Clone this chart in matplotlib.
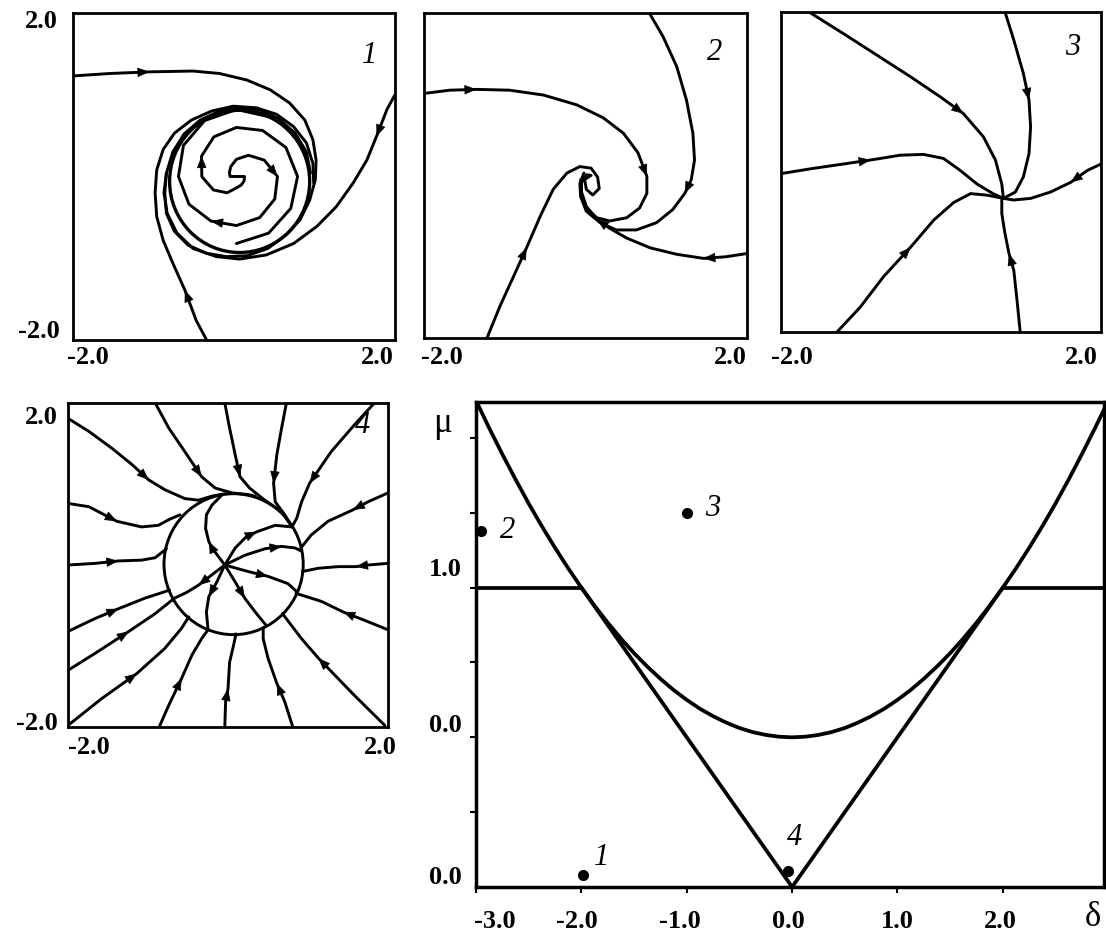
import numpy as np
import matplotlib
matplotlib.use('Agg')
import matplotlib.pyplot as plt
from matplotlib.patches import Circle

plt.rcParams['font.family'] = ['Liberation Serif', 'DejaVu Serif']

W, H = 1106, 934

# ---------------- phase portrait 1 : unstable focus inside a stable cycle
p1_top = [(-2.0, 1.23), (-1.54, 1.26), (-1.05, 1.28), (-0.51, 1.29), (-0.18, 1.26),
          (0.16, 1.18), (0.45, 1.06), (0.69, 0.90), (0.88, 0.69), (0.98, 0.45),
          (1.02, 0.20), (1.01, -0.04), (0.94, -0.29), (0.82, -0.53), (0.65, -0.71),
          (0.42, -0.88), (0.16, -0.97), (-0.09, -0.98), (-0.34, -0.94), (-0.57, -0.84),
          (-0.74, -0.67), (-0.84, -0.45), (-0.86, -0.20), (-0.84, 0.04), (-0.76, 0.30),
          (-0.62, 0.52), (-0.42, 0.69), (-0.18, 0.80), (0.07, 0.84), (0.32, 0.81),
          (0.55, 0.71), (0.76, 0.53), (0.90, 0.30), (0.95, 0.04)]
p1_right = [(2.0, 1.0), (1.90, 0.82), (1.77, 0.49), (1.65, 0.20), (1.48, -0.08),
            (1.27, -0.37), (1.03, -0.61), (0.74, -0.82), (0.40, -0.96), (0.07, -1.01),
            (-0.22, -0.98), (-0.51, -0.88), (-0.71, -0.69), (-0.83, -0.45), (-0.87, -0.20),
            (-0.84, 0.04)]
p1_bottom = [(-0.34, -2.0), (-0.47, -1.76), (-0.61, -1.39), (-0.76, -1.06), (-0.88, -0.78),
             (-0.96, -0.49), (-0.98, -0.20), (-0.96, 0.08), (-0.88, 0.33), (-0.74, 0.53),
             (-0.53, 0.69), (-0.28, 0.80), (-0.01, 0.86), (0.28, 0.84), (0.53, 0.76),
             (0.74, 0.61), (0.90, 0.41), (0.98, 0.16), (0.99, -0.08)]
p1_cycle_center = (0.07, -0.06)
p1_cycle_radius = 0.87
# inner spirals read as (angle in degrees, radius) around the focus
p1_focus = (0.03, 0.0)
p1_s1_ang = [200, 180, 150, 120, 90, 60, 30, 0, -30, -60, -90, -120, -150, -180, -210, -240, -270, -300]
p1_s1_rad = [0.0, 0.08, 0.10, 0.14, 0.21, 0.30, 0.40, 0.51, 0.55, 0.58, 0.60, 0.63, 0.68, 0.72, 0.76, 0.79, 0.82, 0.84]
p1_s2_ang = [20, 0, -30, -60, -90, -120, -150, -180, -210, -240, -270, -300, -330, -360, -390, -420, -450]
p1_s2_rad = [0.0, 0.10, 0.11, 0.12, 0.14, 0.23, 0.33, 0.43, 0.50, 0.56, 0.60, 0.65, 0.71, 0.76, 0.78, 0.80, 0.82]

# ---------------- phase portrait 2 : stable focus
p2_left = [(-2.0, 1.01), (-1.68, 1.05), (-1.35, 1.06), (-0.94, 1.05), (-0.52, 0.99),
           (-0.11, 0.87), (0.22, 0.71), (0.47, 0.52), (0.65, 0.28), (0.76, -0.01),
           (0.76, -0.22), (0.67, -0.40), (0.51, -0.52), (0.30, -0.56), (0.14, -0.52),
           (0.01, -0.40), (-0.05, -0.24), (-0.05, -0.09), (0.01, 0.01), (0.07, 0.0)]
p2_top = [(0.79, 2.0), (0.96, 1.71), (1.13, 1.34), (1.25, 0.93), (1.33, 0.52),
          (1.35, 0.19), (1.31, -0.05), (1.23, -0.22), (1.08, -0.42), (0.88, -0.58),
          (0.63, -0.67), (0.38, -0.67), (0.18, -0.58), (0.01, -0.44), (-0.06, -0.26),
          (-0.07, -0.10), (-0.02, 0.03)]
p2_right = [(2.0, -0.96), (1.74, -1.0), (1.46, -1.02), (1.13, -0.97), (0.80, -0.89),
            (0.51, -0.77), (0.30, -0.65), (0.14, -0.54), (0.01, -0.38), (-0.05, -0.20),
            (-0.06, -0.05)]
p2_bottom = [(-1.22, -2.0), (-1.06, -1.61), (-0.89, -1.24), (-0.73, -0.89), (-0.56, -0.50),
             (-0.40, -0.17), (-0.23, 0.03), (-0.07, 0.11), (0.07, 0.09), (0.15, -0.02),
             (0.17, -0.16), (0.09, -0.24), (0.01, -0.17), (-0.01, -0.05), (0.05, -0.01)]

# ---------------- phase portrait 3 : stable node
p3_a = [(-1.65, 2.0), (-1.22, 1.73), (-0.80, 1.46), (-0.38, 1.19), (-0.01, 0.94),
        (0.28, 0.73), (0.53, 0.44), (0.68, 0.15), (0.76, -0.15), (0.78, -0.33)]
p3_b = [(0.80, 2.0), (0.91, 1.65), (1.03, 1.23), (1.10, 0.90), (1.12, 0.56),
        (1.10, 0.23), (1.03, -0.06), (0.93, -0.25), (0.78, -0.33)]
p3_c = [(2.0, 0.10), (1.83, 0.02), (1.62, -0.13), (1.37, -0.25), (1.12, -0.33),
        (0.91, -0.35), (0.78, -0.33)]
p3_d = [(0.99, -2.0), (0.95, -1.60), (0.91, -1.23), (0.85, -1.02), (0.80, -0.77),
        (0.76, -0.52), (0.76, -0.35)]
p3_e = [(-1.30, -2.0), (-1.01, -1.69), (-0.72, -1.31), (-0.38, -0.94), (-0.09, -0.60),
        (0.16, -0.38), (0.37, -0.27), (0.58, -0.29), (0.78, -0.33)]
p3_f = [(-2.0, -0.02), (-1.63, 0.04), (-1.22, 0.10), (-0.88, 0.15), (-0.51, 0.21),
        (-0.22, 0.22), (0.03, 0.17), (0.24, 0.02), (0.45, -0.15), (0.65, -0.27),
        (0.78, -0.33)]

# ---------------- phase portrait 4 : invariant circle
p4_circle_center = (0.07, 0.01)
p4_circle_radius = 0.87
p4_outer = {
    'o1': [(-2.0, 1.81), (-1.74, 1.65), (-1.45, 1.44), (-1.20, 1.24), (-0.99, 1.05),
           (-0.79, 0.93), (-0.54, 0.82), (-0.37, 0.80), (-0.20, 0.85), (-0.04, 0.88)],
    'o2': [(-0.91, 2.0), (-0.74, 1.69), (-0.54, 1.40), (-0.33, 1.09), (-0.16, 0.95),
           (0.05, 0.89), (0.25, 0.87), (0.34, 0.85)],
    'o3': [(-0.04, 2.0), (0.02, 1.69), (0.09, 1.36), (0.15, 1.09), (0.27, 0.95),
           (0.46, 0.80), (0.67, 0.66), (0.80, 0.47)],
    'o4': [(0.73, 2.0), (0.67, 1.69), (0.61, 1.36), (0.57, 1.01), (0.59, 0.78),
           (0.71, 0.62), (0.80, 0.47)],
    'o5': [(1.83, 2.0), (1.58, 1.73), (1.29, 1.40), (1.02, 1.01), (0.92, 0.78),
           (0.86, 0.58), (0.80, 0.47)],
    'o6': [(2.0, 0.89), (1.75, 0.78), (1.56, 0.68), (1.25, 0.54), (1.04, 0.37),
           (0.91, 0.21)],
    'o7': [(2.0, 0.02), (1.75, 0.0), (1.60, -0.02), (1.38, -0.02), (1.13, -0.04),
           (0.93, -0.08)],
    'o8': [(2.0, -0.80), (1.75, -0.70), (1.44, -0.58), (1.17, -0.45), (0.85, -0.35)],
    'o9': [(1.96, -1.98), (1.58, -1.61), (1.13, -1.15), (0.92, -0.91), (0.68, -0.60)],
    'o10': [(0.81, -2.0), (0.71, -1.69), (0.61, -1.46), (0.50, -1.15), (0.44, -0.91),
            (0.44, -0.77)],
    'o11': [(-0.04, -2.0), (-0.03, -1.69), (0.0, -1.53), (0.02, -1.20), (0.07, -0.99),
            (0.10, -0.85)],
    'o12': [(-0.86, -2.0), (-0.74, -1.73), (-0.58, -1.40), (-0.45, -1.11), (-0.33, -0.91),
            (-0.25, -0.80)],
    'o13': [(-2.0, -1.98), (-1.58, -1.65), (-1.14, -1.34), (-0.79, -1.03), (-0.58, -0.78),
            (-0.49, -0.64)],
    'l5': [(-2.0, -1.30), (-1.66, -1.09), (-1.24, -0.82), (-0.91, -0.60), (-0.67, -0.41)],
    'l4': [(-2.0, -0.82), (-1.66, -0.66), (-1.37, -0.54), (-1.04, -0.41), (-0.73, -0.31)],
    'l3': [(-2.0, 0.0), (-1.66, 0.02), (-1.37, 0.05), (-1.08, 0.06), (-0.91, 0.09),
           (-0.77, 0.20)],
    'l2': [(-2.0, 0.76), (-1.74, 0.72), (-1.39, 0.54), (-1.08, 0.47), (-0.87, 0.49),
           (-0.74, 0.56), (-0.60, 0.62)],
}
p4_outer_arrow = {'o1': 4, 'o2': 3, 'o3': 3, 'o4': 3, 'o5': 3, 'o6': 2, 'o7': 2, 'o8': 2,
                  'o9': 2, 'o10': 2, 'o11': 2, 'o12': 2, 'o13': 2, 'l5': 2, 'l4': 2,
                  'l3': 2, 'l2': 2}
p4_inner = {
    'i1': [(-0.04, 0.0), (-0.20, 0.21), (-0.24, 0.29), (-0.28, 0.45), (-0.27, 0.62),
           (-0.20, 0.74), (-0.08, 0.86)],
    'i2': [(-0.04, 0.0), (0.09, 0.21), (0.23, 0.35), (0.36, 0.41), (0.59, 0.49), (0.80, 0.47)],
    'i3': [(-0.04, 0.0), (0.21, 0.12), (0.46, 0.20), (0.67, 0.23), (0.84, 0.21), (0.92, 0.17)],
    'i4': [(-0.04, 0.0), (0.25, -0.08), (0.50, -0.14), (0.75, -0.23), (0.86, -0.33)],
    'i5': [(-0.04, 0.0), (0.09, -0.21), (0.21, -0.41), (0.34, -0.58), (0.48, -0.75)],
    'i6': [(-0.04, 0.0), (-0.14, -0.21), (-0.24, -0.39), (-0.27, -0.58), (-0.25, -0.79)],
    'i7': [(-0.04, 0.0), (-0.20, -0.12), (-0.37, -0.25), (-0.52, -0.34), (-0.67, -0.41)],
}
p4_inner_arrow = {'i1': 2, 'i2': 3, 'i3': 3, 'i4': 2, 'i5': 2, 'i6': 2, 'i7': 2}

# ---------------- bifurcation diagram (delta, mu)
par_delta = [-3.0, -2.875, -2.75, -2.625, -2.5, -2.375, -2.25, -2.125, -2.0, -1.875, -1.75,
             -1.625, -1.5, -1.375, -1.25, -1.125, -1.0, -0.875, -0.75, -0.625, -0.5, -0.375,
             -0.25, -0.125, 0.0, 0.125, 0.25, 0.375, 0.5, 0.625, 0.75, 0.875, 1.0, 1.125,
             1.25, 1.375, 1.5, 1.625, 1.75, 1.875, 2.0, 2.125, 2.25, 2.375, 2.5, 2.625,
             2.75, 2.875, 2.96]
par_mu = [2.25, 2.066, 1.891, 1.723, 1.562, 1.41, 1.266, 1.129, 1.0, 0.879, 0.766,
          0.66, 0.562, 0.473, 0.391, 0.316, 0.25, 0.191, 0.141, 0.098, 0.062, 0.035,
          0.016, 0.004, 0.0, 0.004, 0.016, 0.035, 0.062, 0.098, 0.141, 0.191, 0.25, 0.316,
          0.391, 0.473, 0.562, 0.66, 0.766, 0.879, 1.0, 1.129, 1.266, 1.41, 1.562, 1.723,
          1.891, 2.066, 2.19]
v_delta = [-2.0, 0.0, 2.0]
v_mu = [1.0, -1.0, 1.0]
hl_left_delta = [-3.0, -2.0]
hl_right_delta = [2.0, 2.96]
hl_mu = [1.0, 1.0]
pt_delta = [-1.98, -2.95, -1.0, -0.04]
pt_mu = [-0.92, 1.38, 1.5, -0.89]
pt_names = ['1', '2', '3', '4']


def add_axes_px(left, top, right, bottom):
    return fig.add_axes([left / W, 1 - bottom / H, (right - left) / W, (bottom - top) / H])


def fig_text(x, y, s, **kw):
    kw.setdefault('fontsize', 19)
    kw.setdefault('fontweight', 'bold')
    kw.setdefault('ha', 'center')
    kw.setdefault('va', 'center')
    fig.text(x / W, 1 - y / H, s, **kw)


def draw_curve(ax, pts, arrows=(), lw=2.1):
    xs = [p[0] for p in pts]
    ys = [p[1] for p in pts]
    ax.plot(xs, ys, color='black', lw=lw, solid_joinstyle='round', solid_capstyle='round')
    for i in arrows:
        ax.annotate('', xy=(xs[i], ys[i]), xytext=(xs[i - 1], ys[i - 1]),
                    arrowprops=dict(arrowstyle='-|>,head_length=0.55,head_width=0.22',
                                    color='black', lw=0.5, shrinkA=0, shrinkB=0,
                                    mutation_scale=14))


def polar_pts(center, ang, rad):
    a = np.radians(ang)
    return list(zip(center[0] + np.array(rad) * np.cos(a),
                    center[1] + np.array(rad) * np.sin(a)))


def phase_axes(left, top, right, bottom):
    ax = add_axes_px(left, top, right, bottom)
    ax.set_xlim(-2, 2)
    ax.set_ylim(-2, 2)
    ax.set_xticks([])
    ax.set_yticks([])
    for s in ax.spines.values():
        s.set_linewidth(2.0)
    return ax


def panel_number(ax, x, y, s):
    ax.text(x, y, s, transform=ax.transAxes, fontsize=22, style='italic',
            ha='center', va='center')


fig = plt.figure(figsize=(W / 100, H / 100), dpi=100)

# panel 1
ax1 = phase_axes(73, 13, 395, 340)
draw_curve(ax1, p1_top, [2])
draw_curve(ax1, p1_right, [2])
draw_curve(ax1, p1_bottom, [2])
ax1.add_patch(Circle(p1_cycle_center, p1_cycle_radius, fill=False, lw=2.4, color='black'))
s1 = polar_pts(p1_focus, p1_s1_ang, p1_s1_rad)
s2 = polar_pts(p1_focus, p1_s2_ang, p1_s2_rad)
draw_curve(ax1, s1, [7, 11])
draw_curve(ax1, s2, [8])
panel_number(ax1, 0.92, 0.87, '1')

# panel 2
ax2 = phase_axes(424, 13, 747, 338)
draw_curve(ax2, p2_left, [2, 9])
draw_curve(ax2, p2_top, [7])
draw_curve(ax2, p2_right, [2, 7])
draw_curve(ax2, p2_bottom, [3])
panel_number(ax2, 0.90, 0.88, '2')

# panel 3
ax3 = phase_axes(781, 12, 1101, 332)
draw_curve(ax3, p3_a, [5])
draw_curve(ax3, p3_b, [3])
draw_curve(ax3, p3_c, [2])
draw_curve(ax3, p3_d, [3])
draw_curve(ax3, p3_e, [3])
draw_curve(ax3, p3_f, [3])
panel_number(ax3, 0.91, 0.89, '3')

# panel 4
ax4 = phase_axes(68, 403, 388, 727)
ax4.add_patch(Circle(p4_circle_center, p4_circle_radius, fill=False, lw=2.1, color='black'))
for k, pts in p4_outer.items():
    draw_curve(ax4, pts, [p4_outer_arrow[k]])
for k, pts in p4_inner.items():
    draw_curve(ax4, pts, [p4_inner_arrow[k]])
panel_number(ax4, 0.92, 0.93, '4')

# tick labels of the phase portraits
fig_text(58, 22, '2.0', ha='right')
fig_text(60, 331, '-2.0', ha='right')
fig_text(88, 357, '-2.0')
fig_text(377, 357, '2.0')
fig_text(442, 357, '-2.0')
fig_text(730, 357, '2.0')
fig_text(792, 357, '-2.0')
fig_text(1081, 357, '2.0')
fig_text(58, 418, '2.0', ha='right')
fig_text(58, 724, '-2.0', ha='right')
fig_text(89, 747, '-2.0')
fig_text(380, 747, '2.0')

# bifurcation diagram
ax5 = add_axes_px(476, 402, 1104, 887)
ax5.plot(par_delta, par_mu, color='black', lw=2.7)
ax5.plot(v_delta, v_mu, color='black', lw=2.7)
ax5.plot(hl_left_delta, hl_mu, color='black', lw=2.7)
ax5.plot(hl_right_delta, hl_mu, color='black', lw=2.7)
ax5.plot(pt_delta, pt_mu, 'o', color='black', ms=7, clip_on=False)
label_off = [(0.17, 0.12), (0.25, 0.0), (0.25, 0.03), (0.06, 0.22)]
for d, m, n, off in zip(pt_delta, pt_mu, pt_names, label_off):
    ax5.text(d + off[0], m + off[1], n, fontsize=22, style='italic', ha='center', va='center')
ax5.set_xlim(-3.0, 2.96)
ax5.set_ylim(-1.0, 2.24)
ax5.set_xticks([-3, -2, -1, 0, 1, 2])
ax5.set_yticks([-0.5, 0.0, 0.5, 1.0, 1.5, 2.0])
ax5.tick_params(direction='out', length=4, width=1.5, labelbottom=False, labelleft=False)
for s in ax5.spines.values():
    s.set_linewidth(2.5)

fig_text(445, 877, '0.0')
fig_text(445, 725, '0.0')
fig_text(445, 570, '1.0')
fig_text(443, 423, 'μ', fontsize=25, fontweight='normal')
for x, s in zip([495, 577, 680, 788, 897, 1000], ['-3.0', '-2.0', '-1.0', '0.0', '1.0', '2.0']):
    fig_text(x, 921, s)
fig_text(1093, 918, 'δ', fontsize=25, fontweight='normal')

fig.savefig('out.png', dpi=100, facecolor='white')
